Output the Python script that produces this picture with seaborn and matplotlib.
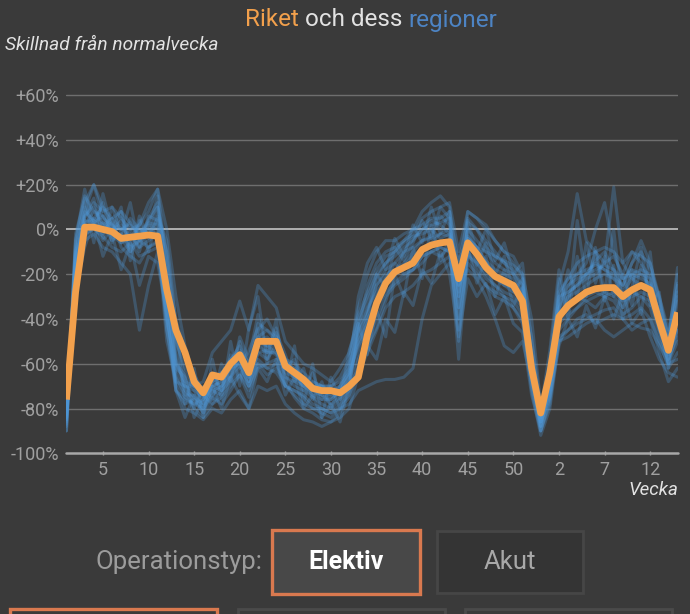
import numpy as np
import pandas as pd
import seaborn as sns
import matplotlib.pyplot as plt
from matplotlib.patches import Rectangle

# ---------------- data ----------------
# sequential week index: 2020 weeks 1..53, then 2021 weeks 1..15
week_labels = [str(w) for w in range(1, 54)] + [str(w) for w in range(1, 16)]
tick_labels = ["5", "10", "15", "20", "25", "30", "35", "40", "45", "50", "2", "7", "12"]
tick_index = [4, 9, 14, 19, 24, 29, 34, 39, 44, 49, 54, 59, 64]

riket = [-76, -28, 1, 1, 0, -1, -4, -3.5, -3, -2.5, -3,
         -27, -45, -55, -68, -73, -65, -66, -60, -56, -64,
         -50, -50, -50, -61, -64, -67, -71, -72, -72, -73, -70, -66,
         -47, -33, -24, -19, -17, -15, -9, -7, -6, -5.5, -22, -6, -11, -17, -21, -23, -25, -32,
         -62, -82, -64, -39, -34, -31, -28, -26.5, -26, -26, -30, -27, -25, -27, -41, -54, -37]

stockholm = [-82, -10, 8, 20, 5, 2, 0, 3, -5, 2, 0,
             -45, -68, -75, -78, -80, -72, -70, -66, -60, -70,
             -55, -58, -52, -66, -70, -72, -75, -78, -80, -76, -72, -40,
             -30, -20, -15, -12, -8, -5, 0, 2, 3, 5, -30, 0, -5, -10, -15, -18, -20, -28,
             -65, -88, -72, -35, -25, -20, -15, 0, 12, -10, -22, -20, -18, -20, -35, -50, -30]
vastra_gotaland = [-88, -20, 3, 5, 10, 2, -5, 0, -10, 5, 12,
                   -20, -60, -68, -70, -76, -70, -68, -62, -50, -68,
                   -45, -40, -48, -58, -65, -70, -68, -70, -75, -72, -68, -55,
                   -38, -25, -20, -18, -15, -10, -5, -3, 10, 5, -40, 3, 0, -8, -12, -15, -18, -25,
                   -55, -80, -60, -30, -28, -25, -20, -15, -18, -22, -25, -15, -10, -18, -30, -45, -25]
skane = [-85, -15, 10, 2, -2, 5, -8, -12, -15, -8, -5,
         -35, -72, -78, -76, -82, -75, -78, -72, -65, -72,
         -62, -60, -58, -70, -72, -75, -80, -82, -84, -80, -75, -58,
         -50, -40, -30, -25, -22, -18, -12, -10, -8, -10, -35, -12, -15, -20, -25, -30, -32, -38,
         -70, -90, -78, -45, -40, -35, -30, -28, -30, -28, -32, -30, -28, -30, -45, -60, -45]
uppsala = [-80, -25, -5, -2, -8, -10, -15, -20, -45, -25, -10,
           -40, -62, -70, -72, -78, -70, -72, -65, -58, -66,
           -52, -55, -55, -62, -66, -68, -72, -74, -76, -72, -65, -50,
           -42, -30, -22, -15, -20, -18, -15, -10, -12, -8, -58, -10, -15, -22, -25, -28, -30, -35,
           -60, -85, -70, -40, -35, -30, -32, -35, -30, -32, -38, -35, -30, -35, -50, -62, -55]
ostergotland = [-78, -5, 15, 8, 3, 0, 2, -5, 0, -3, 5,
                -10, -40, -55, -65, -72, -68, -70, -62, -60, -70,
                -60, -62, -60, -70, -74, -78, -80, -80, -82, -80, -78, -72,
                -70, -68, -67, -67, -66, -62, -40, -25, -20, -15, -25, -18, -22, -30, -40, -52, -55, -50,
                -68, -86, -75, -50, -48, -45, -42, -40, -45, -48, -45, -42, -44, -45, -52, -60, -58]
jonkoping = [-90, -22, 5, 12, 8, 10, 5, 0, 2, 8, 18,
             -15, -55, -72, -80, -84, -78, -75, -70, -65, -75,
             -60, -65, -62, -68, -75, -80, -82, -85, -86, -82, -70, -45,
             -25, -15, -10, -8, -5, -2, 5, 8, 10, 12, -10, 8, 5, 0, -5, -10, -12, -20,
             -58, -88, -70, -25, -10, 16, -5, -10, -15, -12, -20, -10, -15, -22, -40, -55, -32]
kalmar = [-84, -18, 2, 0, 3, -3, -6, -2, -8, -5, -2,
          -30, -66, -74, -74, -79, -72, -74, -66, -62, -68,
          -55, -54, -56, -66, -68, -70, -73, -74, -78, -75, -68, -48,
          -35, -28, -22, -20, -16, -12, -8, -6, -2, 0, -30, -3, -8, -15, -20, -22, -25, -30,
          -62, -88, -68, -35, -28, -25, -22, -20, -15, 19, -15, -22, -25, -25, -40, -55, -45]
halland = [-80, -12, 4, 3, 6, -2, -3, 5, 0, -2, -4,
           -50, -68, -70, -70, -68, -55, -50, -45, -32, -45,
           -25, -30, -35, -50, -55, -60, -62, -65, -68, -62, -55, -38,
           -28, -18, -12, -10, -6, -3, -2, 0, -4, -2, -20, -4, -8, -14, -18, -20, -22, -28,
           -60, -84, -66, -28, -22, -20, -18, -16, -18, -20, -25, -15, -5, -15, -30, -48, -20]
orebro = [-86, -30, -2, 0, -3, -8, -10, -6, -12, -10, -8,
          -35, -70, -80, -82, -85, -80, -82, -76, -72, -80,
          -70, -72, -70, -78, -82, -85, -86, -88, -86, -84, -80, -65,
          -55, -45, -35, -30, -28, -25, -20, -18, -15, -12, -40, -15, -20, -25, -30, -32, -35, -40,
          -72, -92, -80, -50, -45, -42, -40, -38, -36, -35, -40, -38, -35, -40, -55, -68, -62]
dalarna = [-82, -15, 6, 10, 2, 5, 0, 2, -3, 0, 15,
           -20, -58, -70, -75, -78, -68, -66, -58, -52, -60,
           -48, -45, -50, -60, -62, -66, -70, -72, -74, -70, -64, -42,
           -32, -22, -15, -10, -5, 0, 8, 12, 15, 10, -25, 8, 5, 2, -5, -10, -15, -22,
           -60, -86, -68, -32, -25, -22, -20, -18, -16, -18, -22, -18, -20, -22, -38, -50, -17]
gavleborg = [-84, -8, 12, 20, 10, 5, 8, 3, -2, 3, 2,
             -40, -65, -72, -76, -80, -74, -70, -64, -58, -66,
             -50, -52, -55, -64, -66, -70, -74, -76, -76, -72, -66, -50,
             -40, -32, -25, -20, -18, -14, -10, -8, -6, -5, -18, -8, -12, -18, -22, -25, -28, -32,
             -64, -86, -72, -42, -38, -35, -32, -30, -28, -30, -35, -28, -30, -32, -45, -60, -50]
varmland = [-79, -20, 0, 5, 2, -5, -2, -8, -5, 0, -2,
            -45, -72, -76, -78, -76, -70, -68, -62, -55, -62,
            -42, -45, -48, -60, -64, -68, -70, -70, -70, -68, -62, -44,
            -36, -25, -18, -15, -10, -8, -5, -4, -2, -3, -28, -5, -10, -15, -20, -25, -26, -30,
            -62, -84, -66, -38, -30, -28, -25, -22, -20, -22, -28, -22, -20, -25, -42, -58, -40]
vasternorrland = [-83, -25, -3, 2, -5, 0, -4, -10, -5, -8, -6,
                  -32, -60, -65, -72, -75, -68, -64, -60, -55, -62,
                  -50, -48, -52, -60, -62, -66, -70, -70, -72, -70, -64, -52,
                  -45, -35, -28, -24, -20, -18, -12, -10, -8, -10, -45, -10, -18, -25, -28, -30, -35, -42,
                  -66, -90, -74, -48, -45, -40, -38, -42, -40, -38, -40, -45, -42, -40, -50, -58, -48]
norrbotten = [-81, -10, 8, 4, 0, 3, -6, -4, -2, 4, 10,
              -25, -50, -62, -70, -74, -66, -64, -58, -54, -60,
              -48, -52, -50, -58, -60, -64, -68, -70, -70, -66, -58, -35,
              -20, -10, -5, -5, -2, 0, 2, 5, 5, 8, -15, 5, 0, -5, -10, -15, -20, -25,
              -58, -84, -62, -30, -22, -15, -12, -10, -8, -10, -15, -10, -12, -15, -32, -48, -28]
kronoberg = [-87, -5, 18, 2, 12, -6, 8, -10, 6, -4, 10,
             -10, -48, -66, -80, -70, -76, -60, -68, -48, -58,
             -38, -55, -44, -62, -58, -72, -64, -76, -70, -80, -62, -30,
             -15, -8, -18, -4, -12, 2, -6, 10, -2, 8, -35, 4, -10, 0, -14, -6, -20, -15,
             -50, -86, -58, -22, -40, -12, -30, -8, -28, 0, -35, -18, -38, -10, -45, -52, -40]
blekinge = [-85, -28, -8, 4, -12, -2, -18, -6, -25, -12, -15,
            -38, -72, -84, -74, -82, -70, -80, -66, -74, -80,
            -62, -68, -58, -74, -66, -80, -74, -84, -78, -86, -70, -62,
            -52, -58, -40, -46, -28, -34, -18, -24, -10, -20, -48, -22, -30, -24, -38, -30, -42, -46,
            -74, -90, -76, -52, -40, -48, -34, -44, -30, -40, -28, -42, -36, -48, -58, -64, -66]
vastmanland = [-83, -18, 6, 14, -4, 10, -2, 12, -8, 6, 4,
               -28, -62, -66, -84, -76, -64, -72, -56, -62, -54,
               -44, -60, -46, -56, -68, -62, -76, -68, -80, -70, -60, -46,
               -38, -20, -26, -8, -14, -6, 4, -4, 6, 2, -22, 0, -16, -6, -20, -12, -28, -22,
               -56, -84, -64, -36, -18, -30, -6, -24, -12, -30, -20, -34, -16, -28, -36, -56, -44]
jamtland = [-90, -2, 14, -6, 16, 0, 10, -14, 4, -10, 6,
            -5, -42, -78, -62, -84, -58, -76, -50, -70, -44,
            -30, -58, -40, -70, -52, -78, -60, -84, -66, -76, -54, -42,
            -56, -36, -48, -20, -30, -8, -22, 2, -14, -4, -50, -8, -24, -12, -30, -18, -34, -26,
            -48, -80, -54, -18, -36, 4, -24, -10, -32, -16, -40, -26, -8, -34, -28, -62, -24]
vasterbotten = [-80, -12, 2, 8, 6, 0, 4, -4, 2, 12, 18,
                0, -30, -52, -66, -74, -78, -72, -68, -64, -70,
                -58, -62, -64, -70, -72, -74, -78, -80, -82, -78, -74, -64,
                -52, -44, -32, -20, -10, -4, 0, 4, 2, -2, -14, -4, -8, -10, -12, -14, -16, -20,
                -40, -78, -70, -42, -30, -24, -20, -14, -10, -18, -26, -20, -22, -24, -38, -52, -38]

regions = {
    "Stockholm": stockholm, "Västra Götaland": vastra_gotaland, "Skåne": skane,
    "Uppsala": uppsala, "Östergötland": ostergotland, "Jönköping": jonkoping,
    "Kalmar": kalmar, "Halland": halland, "Örebro": orebro, "Dalarna": dalarna,
    "Gävleborg": gavleborg, "Värmland": varmland, "Västernorrland": vasternorrland,
    "Norrbotten": norrbotten, "Kronoberg": kronoberg, "Blekinge": blekinge,
    "Västmanland": vastmanland, "Jämtland": jamtland, "Västerbotten": vasterbotten,
}

n = len(riket)
for k, v in regions.items():
    assert len(v) == n, (k, len(v))

idx = np.arange(n)
df = pd.concat([pd.DataFrame({"idx": idx, "value": v, "region": k}) for k, v in regions.items()],
               ignore_index=True)
df_riket = pd.DataFrame({"idx": idx, "value": riket})

# ---------------- style ----------------
BG = "#3a3a3a"
sns.set_style("dark", {"axes.facecolor": BG, "figure.facecolor": BG})
plt.rcParams["font.family"] = ["Roboto", "DejaVu Sans"]

W, H = 690, 614
fig = plt.figure(figsize=(W / 100, H / 100), dpi=100)
fig.patch.set_facecolor(BG)

def fx(x):
    return x / W

def fy(y):
    return 1 - y / H

ax_left, ax_right, ax_bottom, ax_top = 66, 678, 453.3, 81
ax = fig.add_axes([fx(ax_left), fy(ax_bottom), fx(ax_right - ax_left), (ax_bottom - ax_top) / H])
ax.set_facecolor(BG)

# grid lines
for v in [60, 40, 20, -20, -40, -60, -80]:
    ax.axhline(v, color="#6e6e6e", lw=1.0, zorder=1)
ax.axhline(0, color="#b0b0b0", lw=1.4, zorder=1)
ax.axhline(-100, color="#a8a8a8", lw=1.8, zorder=1, clip_on=False)

sns.lineplot(data=df, x="idx", y="value", units="region", estimator=None,
             color="#4f97d6", alpha=0.3, lw=2.2, ax=ax, legend=False, zorder=2,
             solid_joinstyle="round")
sns.lineplot(data=df_riket, x="idx", y="value", color="#f2a04c", lw=4.9, ax=ax,
             legend=False, zorder=3, solid_joinstyle="round", solid_capstyle="butt")

ax.set_xlim(-0.05, 67.05)
ax.set_ylim(-100, 66.3)
ax.set_yticks([60, 40, 20, 0, -20, -40, -60, -80, -100])
ax.set_yticklabels(["+60%", "+40%", "+20%", "0%", "-20%", "-40%", "-60%", "-80%", "-100%"])
ax.set_xticks(tick_index)
ax.set_xticklabels(tick_labels)
ax.tick_params(axis="y", length=0, pad=5, labelsize=13, labelcolor="#a0a0a0")
ax.tick_params(axis="x", length=3, width=1, direction="inout", color="#a0a0a0",
               pad=4, labelsize=13, labelcolor="#a0a0a0", bottom=True)
ax.set_xlabel("")
ax.set_ylabel("")
ax.grid(False)
for s in ax.spines.values():
    s.set_visible(False)

# titles
fig.canvas.draw()
renderer = fig.canvas.get_renderer()
parts = [("Riket", "#f2a04c"), (" och dess ", "#e2e2e2"), ("regioner", "#4d84c4")]
tsize = 17.5
texts = []
for s, c in parts:
    t = fig.text(0, fy(20), s, color=c, fontsize=tsize, ha="left", va="center")
    texts.append(t)
widths = [t.get_window_extent(renderer).width for t in texts]
total = sum(widths)
x0 = 371 - total / 2
for t, w in zip(texts, widths):
    t.set_x(fx(x0))
    x0 += w

fig.text(fx(5), fy(45), "Skillnad från normalvecka", color="#e2e2e2", fontsize=13.8,
         style="italic", ha="left", va="center")
fig.text(fx(678), fy(490), "Vecka", color="#e2e2e2", fontsize=13.5, style="italic",
         ha="right", va="center")

# bottom controls
def rect(x0, y0, x1, y1, fc, ec, lw):
    r = Rectangle((fx(x0), fy(y1)), fx(x1 - x0), (y1 - y0) / H, transform=fig.transFigure,
                  facecolor=fc, edgecolor=ec, lw=lw, clip_on=False)
    fig.patches.append(r)

rect(272, 530, 420, 594, "#484848", "#d9794f", 2.4)
rect(437, 531, 583, 593, "#343434", "#464646", 2.0)
rect(10, 609, 217, 640, BG, "#d9794f", 2.4)
rect(238, 609, 445, 640, BG, "#4a4a4a", 2.0)
rect(465, 609, 672, 640, BG, "#4a4a4a", 2.0)

fig.text(fx(262), fy(562), "Operationstyp:", color="#9c9c9c", fontsize=18.5, ha="right", va="center")
fig.text(fx(346), fy(562), "Elektiv", color="#ffffff", fontsize=18, fontweight="bold",
         ha="center", va="center")
fig.text(fx(510), fy(562), "Akut", color="#a8a8a8", fontsize=18.5, ha="center", va="center")

fig.savefig("out.png", dpi=100, facecolor=BG)
